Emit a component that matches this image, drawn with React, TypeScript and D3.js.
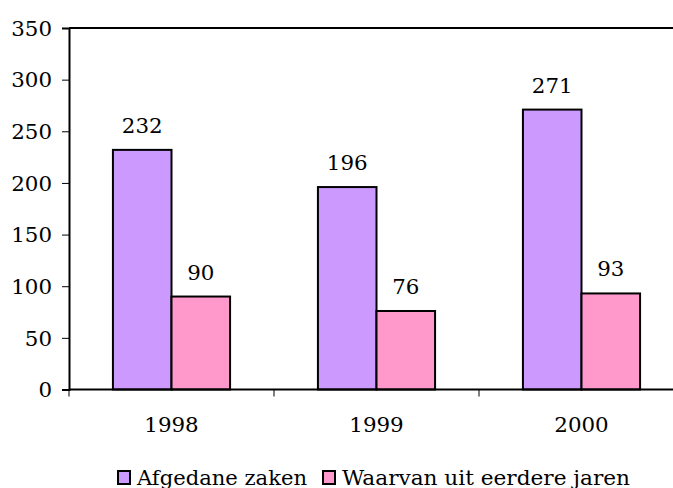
import React, { useEffect, useRef } from 'react';
import * as d3 from 'd3';

const years = ['1998', '1999', '2000'];
const seriesNames = ['Afgedane zaken', 'Waarvan uit eerdere jaren'];
const afgedane = [232, 196, 271];
const eerdere = [90, 76, 93];
const yTicks = [0, 50, 100, 150, 200, 250, 300, 350];
const colors = ['#CC99FF', '#FF99CC'];
const legendWidths = [170, 288];

const FONT = '"DejaVu Serif", serif';
const DIGIT_W = 13.6;

export default function App() {
  const svgRef = useRef<SVGSVGElement>(null);

  useEffect(() => {
    if (!svgRef.current) return;
    const svg = d3.select(svgRef.current);
    svg.selectAll('*').remove();

    const left = 69, right = 684, top = 28, bottom = 389.5;

    const x0 = d3.scaleBand().domain(years).range([left, right]).padding(0);
    const x1 = d3.scaleBand().domain(seriesNames).range([0, x0.bandwidth()])
      .paddingInner(0).paddingOuter(0.75);
    const y = d3.scaleLinear().domain([0, 350]).range([bottom, top]);

    const rows = years.map((yr, i) => ({ yr, values: [afgedane[i], eerdere[i]] }));

    // Frame: top line
    svg.append('line')
      .attr('x1', left).attr('x2', right)
      .attr('y1', top).attr('y2', top)
      .attr('stroke', '#000').attr('stroke-width', 2);

    // Bars
    const g = svg.selectAll('.grp')
      .data(rows)
      .enter()
      .append('g')
      .attr('transform', d => `translate(${x0(d.yr)},0)`);

    g.selectAll('rect')
      .data(d => d.values.map((v, k) => ({ v, k })))
      .enter()
      .append('rect')
      .attr('x', d => x1(seriesNames[d.k])!)
      .attr('y', d => y(d.v))
      .attr('width', x1.bandwidth())
      .attr('height', d => y(0) - y(d.v))
      .attr('fill', d => colors[d.k])
      .attr('stroke', '#000')
      .attr('stroke-width', 2);

    g.selectAll('.val')
      .data(d => d.values.map((v, k) => ({ v, k })))
      .enter()
      .append('text')
      .attr('x', d => x1(seriesNames[d.k])! + x1.bandwidth() / 2)
      .attr('y', d => y(d.v) - 17)
      .attr('text-anchor', 'middle')
      .attr('textLength', d => String(d.v).length * DIGIT_W)
      .attr('lengthAdjust', 'spacingAndGlyphs')
      .style('font-family', FONT)
      .style('font-size', '20px')
      .text(d => d.v);

    // Y axis
    const yAxis = svg.append('g')
      .attr('transform', `translate(${left},0)`)
      .call(d3.axisLeft(y).tickValues(yTicks).tickSize(7).tickPadding(10));
    yAxis.select('.domain').attr('stroke', '#000').attr('stroke-width', 2);
    yAxis.selectAll('.tick line').attr('stroke', '#000');
    yAxis.selectAll<SVGTextElement, number>('.tick text')
      .attr('fill', '#000')
      .attr('dy', '0.36em')
      .attr('textLength', d => String(d).length * DIGIT_W)
      .attr('lengthAdjust', 'spacingAndGlyphs')
      .style('font-family', FONT)
      .style('font-size', '20px');

    // X axis line + boundary ticks
    svg.append('line')
      .attr('x1', left).attr('x2', right)
      .attr('y1', bottom).attr('y2', bottom)
      .attr('stroke', '#000').attr('stroke-width', 2);

    svg.selectAll('.xtick')
      .data(years.concat(['end']))
      .enter()
      .append('line')
      .attr('x1', (d, i) => left + i * x0.step())
      .attr('x2', (d, i) => left + i * x0.step())
      .attr('y1', bottom)
      .attr('y2', bottom + 7)
      .attr('stroke', '#000');

    svg.selectAll('.xlabel')
      .data(years)
      .enter()
      .append('text')
      .attr('x', d => x0(d)! + x0.bandwidth() / 2)
      .attr('y', 432)
      .attr('text-anchor', 'middle')
      .attr('textLength', d => d.length * DIGIT_W)
      .attr('lengthAdjust', 'spacingAndGlyphs')
      .style('font-family', FONT)
      .style('font-size', '20px')
      .text(d => d);

    // Legend
    const legendX = [118, 323];
    const leg = svg.selectAll('.leg')
      .data(seriesNames)
      .enter()
      .append('g')
      .attr('transform', (d, i) => `translate(${legendX[i]},471)`);

    leg.append('rect')
      .attr('width', 12).attr('height', 13)
      .attr('fill', (d, i) => colors[i])
      .attr('stroke', '#000')
      .attr('stroke-width', 2);

    leg.append('text')
      .attr('x', 19)
      .attr('y', 14)
      .attr('textLength', (d, i) => legendWidths[i])
      .attr('lengthAdjust', 'spacingAndGlyphs')
      .style('font-family', FONT)
      .style('font-size', '20px')
      .text(d => d);
  }, []);

  return (
    <div style={{ position: 'absolute', left: 0, top: 0 }}>
      <svg ref={svgRef} width={673} height={488} style={{ display: 'block', background: '#fff' }} />
    </div>
  );
}
